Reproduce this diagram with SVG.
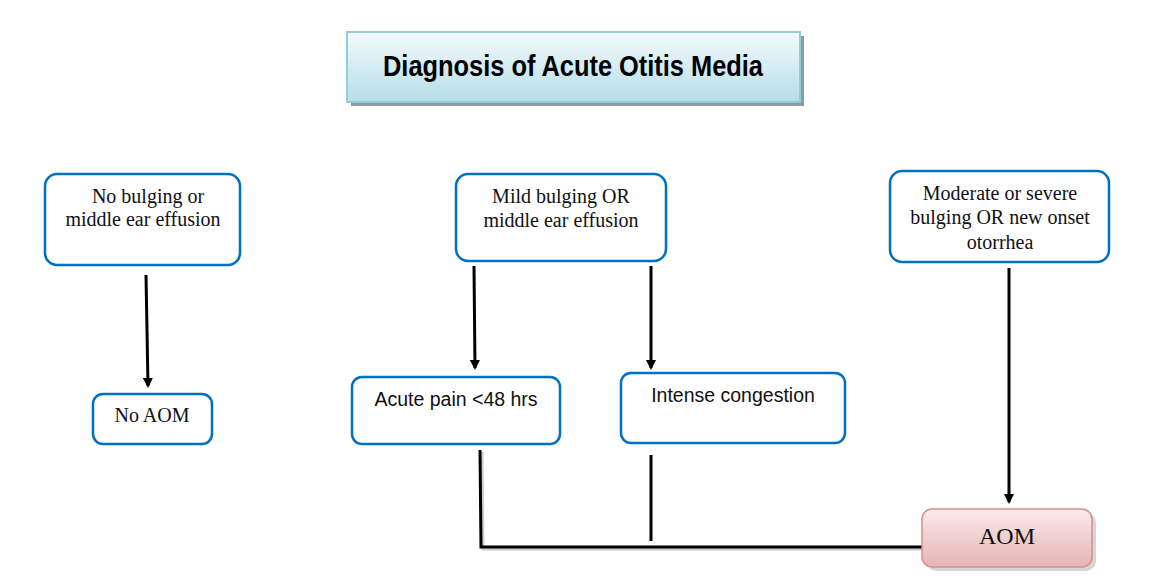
<svg xmlns="http://www.w3.org/2000/svg" width="1169" height="585" viewBox="0 0 1169 585">
<style>
.box{fill:#fff;stroke:#0070c0;stroke-width:2.5}
.serif{font-family:"Liberation Serif",serif;font-size:20px;fill:#111;text-anchor:middle}
.sans{font-family:"Liberation Sans",sans-serif;font-size:19.5px;fill:#111;text-anchor:middle}
.conn{stroke:#000;stroke-width:3;fill:none}
.shad{stroke:#999;stroke-width:3;fill:none;opacity:0.5}
</style>
<defs>
<linearGradient id="tg" x1="0" y1="0" x2="0" y2="1"><stop offset="0" stop-color="#f4fbfd"/><stop offset="1" stop-color="#b6dde8"/></linearGradient>
<linearGradient id="pg" x1="0" y1="0" x2="0" y2="1"><stop offset="0" stop-color="#fbeaea"/><stop offset="1" stop-color="#e6b4b4"/></linearGradient>
<marker id="ah" markerWidth="10" markerHeight="10" refX="8" refY="5" orient="auto" markerUnits="userSpaceOnUse" viewBox="0 0 10 10"><path d="M0,0 L10,5 L0,10 Z" fill="#000"/></marker>
</defs>
<rect width="1169" height="585" fill="#fff"/>
<g id="title">
<rect x="351" y="36" width="453" height="70" fill="#8a9ba3"/>
<rect x="347" y="32" width="453" height="70" fill="url(#tg)" stroke="#92cddc" stroke-width="2"/>
<text x="573" y="76" font-family="'Liberation Sans',sans-serif" font-weight="bold" font-size="29" text-anchor="middle" textLength="380" lengthAdjust="spacingAndGlyphs" fill="#000">Diagnosis of Acute Otitis Media</text>
</g>
<g id="connectors">
<line class="conn" x1="146" y1="275" x2="148" y2="386" marker-end="url(#ah)"/>
<line class="conn" x1="474" y1="266" x2="475" y2="368" marker-end="url(#ah)"/>
<line class="conn" x1="651" y1="266" x2="651" y2="368" marker-end="url(#ah)"/>
<line class="conn" x1="1009" y1="268" x2="1009" y2="502" marker-end="url(#ah)"/>
<polyline class="shad" points="482,452 483,549 926,549"/>
<polyline class="conn" points="480,450 481,547 925,547"/>
<line class="conn" x1="651" y1="455" x2="651" y2="541"/>
</g>
<g id="n1">
<rect class="box" x="45" y="174" width="195" height="91" rx="12"/>
<text class="serif" x="148" y="203">No bulging or</text>
<text class="serif" x="143" y="226">middle ear effusion</text>
</g>
<g id="n2">
<rect class="box" x="456" y="174" width="210" height="87" rx="12"/>
<text class="serif" x="561" y="203">Mild bulging OR</text>
<text class="serif" x="561" y="227">middle ear effusion</text>
</g>
<g id="n3">
<rect class="box" x="890" y="171" width="219" height="91" rx="12"/>
<text class="serif" x="1000" y="200">Moderate or severe</text>
<text class="serif" x="1000" y="224">bulging OR new onset</text>
<text class="serif" x="1000" y="249">otorrhea</text>
</g>
<g id="n4">
<rect class="box" x="93" y="394" width="119" height="50" rx="10"/>
<text class="serif" x="152" y="422">No AOM</text>
</g>
<g id="n5">
<rect class="box" x="352" y="377" width="208" height="67" rx="10"/>
<text class="sans" x="456" y="406">Acute pain &lt;48 hrs</text>
</g>
<g id="n6">
<rect class="box" x="621" y="373" width="224" height="70" rx="10"/>
<text class="sans" x="733" y="402">Intense congestion</text>
</g>
<g id="n7">
<rect x="926" y="513" width="170" height="58" rx="10" fill="#bbb" opacity="0.6"/>
<rect x="922" y="509" width="170" height="58" rx="10" fill="url(#pg)" stroke="#d58f8f" stroke-width="1.5"/>
<text x="1007" y="544" font-family="'Liberation Serif',serif" font-size="24" text-anchor="middle" fill="#111">AOM</text>
</g>
</svg>
